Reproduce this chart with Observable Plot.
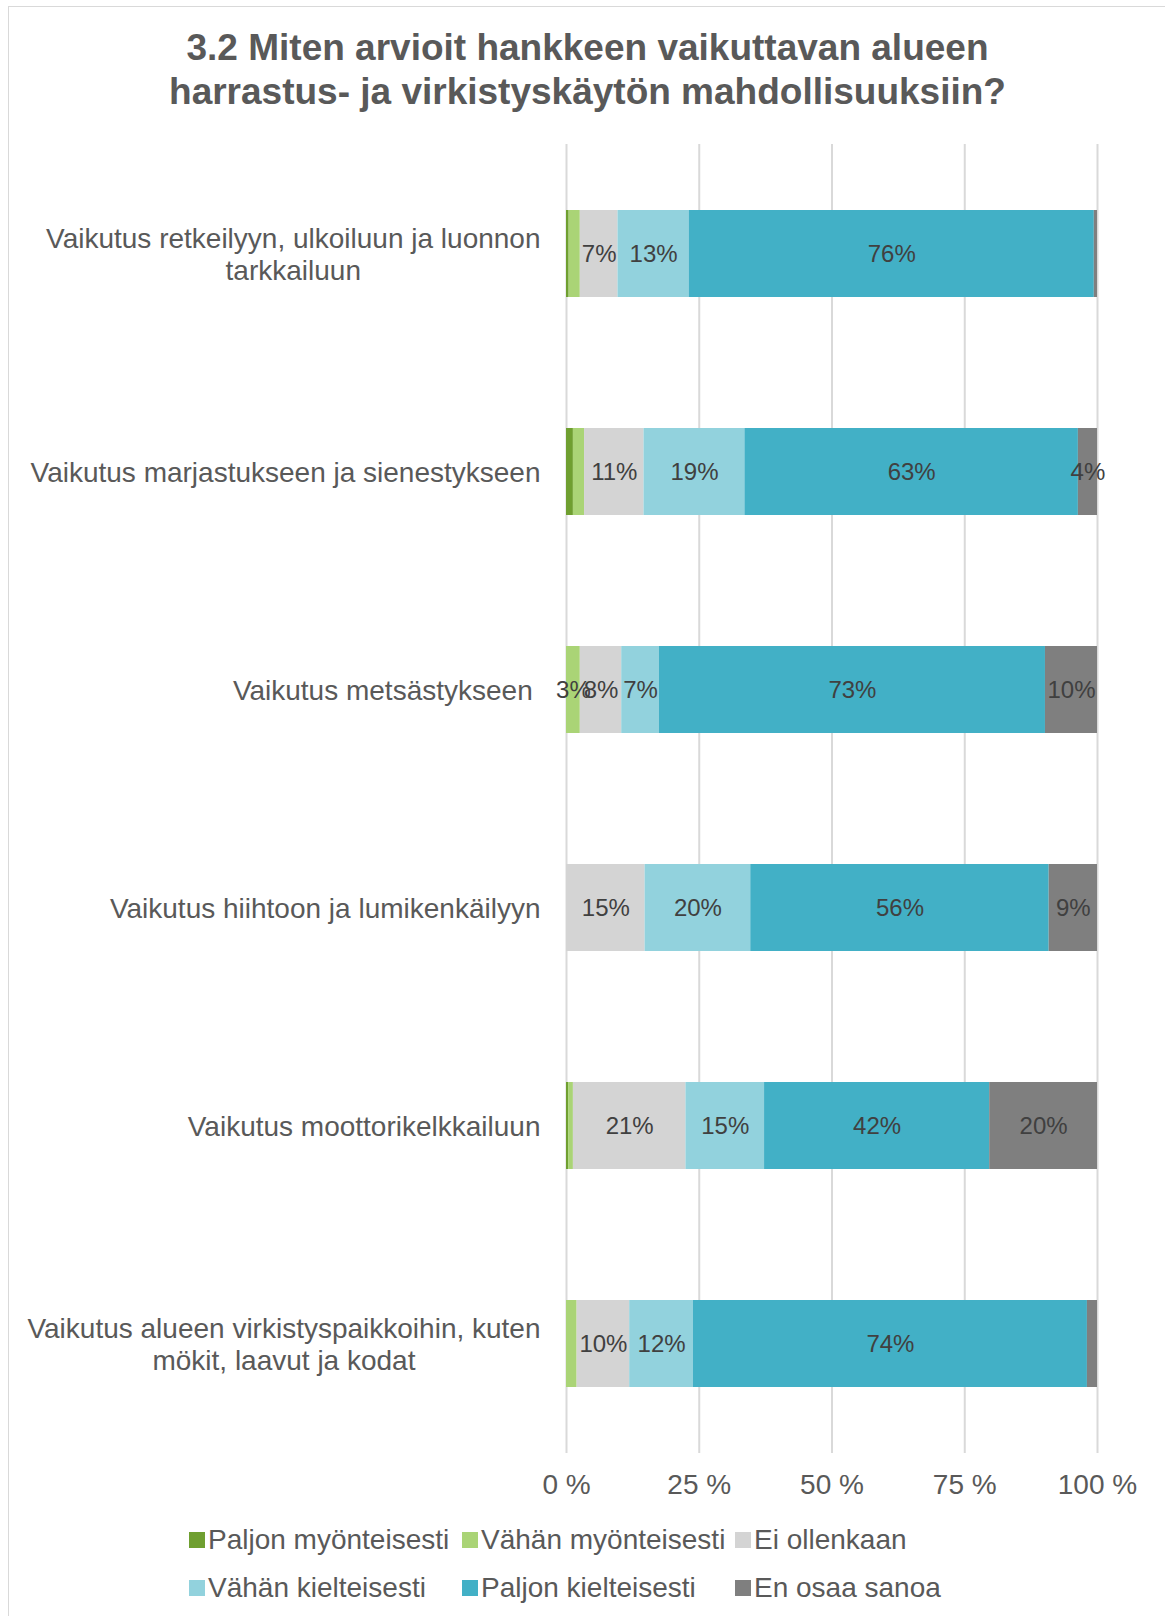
<!DOCTYPE html>
<html><head><meta charset="utf-8">
<script src="https://cdn.jsdelivr.net/npm/d3@7"></script>
<script src="https://cdn.jsdelivr.net/npm/@observablehq/plot@0.6"></script>
<style>
body{margin:0;background:#fff;font-family:"Liberation Sans",Arial,sans-serif;}
#wrap{position:relative;width:1165px;height:1616px;overflow:hidden;}
#frame{position:absolute;left:8px;top:6px;width:1200px;height:1700px;border:1px solid #d9d9d9;}
#title{position:absolute;left:0;top:26px;width:1175px;text-align:center;font-weight:bold;font-size:37px;line-height:44px;color:#595959;}
#chart{position:absolute;left:0;top:130px;}
#chart text{white-space:pre;}
#legend{position:absolute;left:189px;top:1516px;}
.lg-swatches{width:830px;margin:0 !important;}
.lg-swatch{width:273px;height:48px;margin-right:0 !important;}
.lg-swatch > svg{margin-right:3px !important;}
</style>
</head><body>
<div id="wrap">
  <div id="frame"></div>
  <div id="title">3.2 Miten arvioit hankkeen vaikuttavan alueen<br>harrastus- ja virkistyskäytön mahdollisuuksiin?</div>
  <div id="chart"></div>
  <div id="legend"></div>
</div>
<script>
const categories = [
  "Vaikutus retkeilyyn, ulkoiluun ja luonnon\ntarkkailuun",
  "Vaikutus marjastukseen ja sienestykseen",
  "Vaikutus metsästykseen ",
  "Vaikutus hiihtoon ja lumikenkäilyyn",
  "Vaikutus moottorikelkkailuun",
  "Vaikutus alueen virkistyspaikkoihin, kuten\nmökit, laavut ja kodat"
];
const series = ["Paljon myönteisesti", "Vähän myönteisesti", "Ei ollenkaan", "Vähän kielteisesti", "Paljon kielteisesti", "En osaa sanoa"];
const colors = ["#6f9f30", "#aad476", "#d4d4d4", "#92d2dd", "#42b0c6", "#7f7f7f"];

const paljonMyonteisesti = [0.5, 1.3, 0, 0, 0.4, 0];
const vahanMyonteisesti  = [2.1, 2.1, 2.6, 0, 0.9, 2.0];
const eiOllenkaan        = [7.1, 11.2, 7.8, 14.8, 21.2, 9.9];
const vahanKielteisesti  = [13.4, 19.0, 7.1, 19.9, 14.8, 12.0];
const paljonKielteisesti = [76.3, 62.8, 72.7, 56.2, 42.4, 74.2];
const enOsaaSanoa        = [0.6, 3.6, 9.8, 9.1, 20.3, 1.9];
const xTicks = [0, 25, 50, 75, 100];

const seriesValues = [paljonMyonteisesti, vahanMyonteisesti, eiOllenkaan, vahanKielteisesti, paljonKielteisesti, enOsaaSanoa];
const rows = [];
series.forEach((s, i) => categories.forEach((c, j) => rows.push({category: c, series: s, value: seriesValues[i][j]})));

const ctx = document.createElement("canvas").getContext("2d");
ctx.font = "28px 'Liberation Sans'";
const labelMarks = categories.map(c => {
  const w = d3.max(c.split("\n"), l => ctx.measureText(l).width);
  return Plot.text([c], {y: d => d, frameAnchor: "left", textAnchor: "middle", lineAnchor: "middle",
    lineHeight: 32 / 28, dx: -(26 + w / 2), fontSize: 28, fill: "#595959"});
});

const chart = Plot.plot({
  width: 1165, height: 1380,
  marginLeft: 566, marginRight: 68, marginTop: 14, marginBottom: 57,
  style: {fontFamily: "'Liberation Sans', Arial, sans-serif", fontSize: "28px", color: "#595959", background: "transparent", overflow: "visible"},
  x: {domain: [0, 100], label: null},
  y: {domain: categories, paddingInner: 0.602, paddingOuter: 0.301, axis: null},
  color: {domain: series, range: colors},
  marks: [
    Plot.ruleX(xTicks, {stroke: "#d9d9d9", strokeWidth: 2}),
    Plot.barX(rows, Plot.stackX({x: "value", y: "category", fill: "series", order: series})),
    Plot.text(rows, Plot.stackX({x: "value", y: "category", z: "series", order: series,
      text: d => d.value >= 2.5 ? Math.round(d.value) + "%" : "", fill: "#404040", fontSize: 24})),
    Plot.axisX({ticks: xTicks, tickFormat: d => d + " %", tickSize: 0, tickPadding: 21, fontSize: 28, fill: "#595959", label: null}),
    ...labelMarks
  ]
});
document.getElementById("chart").append(chart);

const legend = Plot.legend({
  color: {domain: series, range: colors},
  className: "lg", swatchSize: 16,
  style: {fontSize: "28px", fontFamily: "'Liberation Sans', Arial, sans-serif", color: "#595959"}
});
document.getElementById("legend").append(legend);
</script>
</body></html>
